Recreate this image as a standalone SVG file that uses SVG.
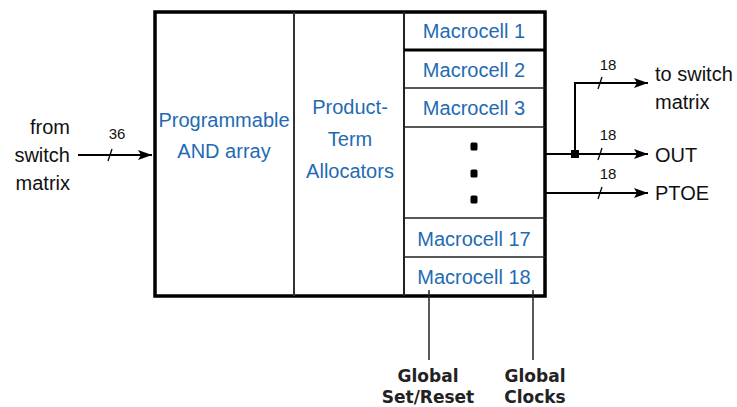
<svg xmlns="http://www.w3.org/2000/svg" width="737" height="407" viewBox="0 0 737 407">
  <defs>
    <marker id="arrow" viewBox="0 0 14 10" refX="14" refY="5" markerWidth="14" markerHeight="10" markerUnits="userSpaceOnUse" orient="auto">
      <path d="M0,0 L14,5 L0,10 L3,5 Z" fill="#000"/>
    </marker>
  </defs>
  <style>
    .blk { fill: #1f6bb3; font-family: "Liberation Sans", Arial, sans-serif; font-size: 20px; text-anchor: middle; }
    .lbl { fill: #111; font-family: "Liberation Sans", Arial, sans-serif; font-size: 20px; }
    .bus { fill: #111; font-family: "Liberation Sans", Arial, sans-serif; font-size: 15px; text-anchor: middle; }
    .glb { fill: #222; font-family: "DejaVu Sans", Verdana, sans-serif; font-size: 17px; font-weight: bold; text-anchor: middle; }
    .wire { stroke: #000; stroke-width: 2; fill: none; }
    .cell { stroke: #222; stroke-width: 1.5; fill: none; }
  </style>
  <rect width="737" height="407" fill="#fff"/>

  <!-- function block outline -->
  <g id="block">
    <rect x="155" y="12" width="390" height="284" fill="#fff" stroke="#000" stroke-width="3.5"/>
  </g>

  <g id="and-array">
    <text class="blk" x="224" y="127">Programmable</text>
    <text class="blk" x="224" y="158">AND array</text>
  </g>

  <g id="pt-allocators">
    <line x1="294" y1="12" x2="294" y2="296" stroke="#333" stroke-width="2"/>
    <text class="blk" x="350" y="114">Product-</text>
    <text class="blk" x="350" y="146">Term</text>
    <text class="blk" x="350" y="178">Allocators</text>
  </g>

  <g id="macrocells">
    <line x1="404" y1="12" x2="404" y2="296" stroke="#222" stroke-width="2"/>
    <line x1="404" y1="50" x2="545" y2="50" stroke="#000" stroke-width="3"/>
    <line class="cell" x1="404" y1="88" x2="545" y2="88"/>
    <line class="cell" x1="404" y1="127" x2="545" y2="127"/>
    <line class="cell" x1="404" y1="218" x2="545" y2="218"/>
    <line class="cell" x1="404" y1="257" x2="545" y2="257"/>
    <text class="blk" x="474" y="38">Macrocell 1</text>
    <text class="blk" x="474" y="77">Macrocell 2</text>
    <text class="blk" x="474" y="115">Macrocell 3</text>
    <rect x="470.5" y="142.5" width="7" height="8" rx="1.5" fill="#000"/>
    <rect x="470.5" y="169.5" width="7" height="8" rx="1.5" fill="#000"/>
    <rect x="470.5" y="195.5" width="7" height="8" rx="1.5" fill="#000"/>
    <text class="blk" x="474" y="246">Macrocell 17</text>
    <text class="blk" x="474" y="284">Macrocell 18</text>
  </g>

  <!-- signal labels -->
  <g id="input-label">
    <text class="lbl" text-anchor="end" x="70" y="134">from</text>
    <text class="lbl" text-anchor="end" x="70" y="162">switch</text>
    <text class="lbl" text-anchor="end" x="70" y="190">matrix</text>
  </g>
  <g id="output-labels">
    <text class="lbl" x="655" y="81">to switch</text>
    <text class="lbl" x="655" y="109">matrix</text>
    <text class="lbl" x="655" y="162">OUT</text>
    <text class="lbl" x="655" y="200">PTOE</text>
  </g>
  <g id="global-labels">
    <text class="glb" x="428" y="382">Global</text>
    <text class="glb" x="428" y="403">Set/Reset</text>
    <text class="glb" x="535" y="382">Global</text>
    <text class="glb" x="535" y="403">Clocks</text>
  </g>

  <!-- connectors -->
  <g id="connectors">
    <line class="wire" x1="78" y1="155" x2="152" y2="155" marker-end="url(#arrow)"/>
    <line class="wire" x1="546" y1="154" x2="648" y2="154" marker-end="url(#arrow)"/>
    <polyline class="wire" points="575,154 575,83 648,83" marker-end="url(#arrow)"/>
    <rect x="571" y="150" width="8" height="8" fill="#000"/>
    <line class="wire" x1="546" y1="193" x2="648" y2="193" marker-end="url(#arrow)"/>
    <line x1="429" y1="290" x2="429" y2="360" stroke="#222" stroke-width="1.5"/>
    <line x1="533" y1="290" x2="533" y2="360" stroke="#222" stroke-width="1.5"/>
    <!-- bus width ticks -->
    <g stroke="#000" stroke-width="1.3">
      <line x1="108" y1="161" x2="112" y2="149"/>
      <line x1="598" y1="89" x2="602" y2="77"/>
      <line x1="598" y1="160" x2="602" y2="148"/>
      <line x1="598" y1="199" x2="602" y2="187"/>
    </g>
    <text class="bus" x="117" y="139">36</text>
    <text class="bus" x="608" y="70">18</text>
    <text class="bus" x="608" y="140">18</text>
    <text class="bus" x="608" y="179">18</text>
  </g>
</svg>
